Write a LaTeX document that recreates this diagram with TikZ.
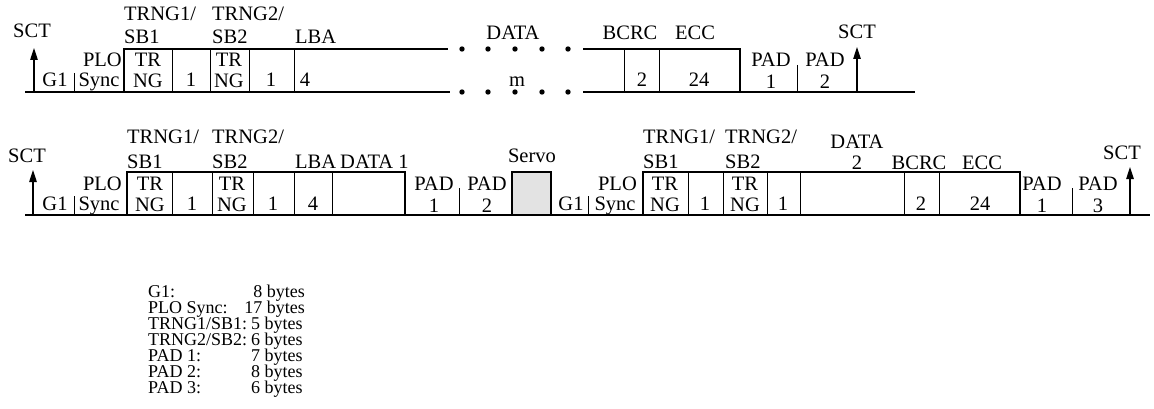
\documentclass[tikz,border=0pt]{standalone}
\usepackage{fontspec}
\setmainfont{Liberation Serif}
\usetikzlibrary{arrows.meta}
\begin{document}
\begin{tikzpicture}[x=1pt,y=-1pt,
  lab/.style={inner sep=0pt, anchor=base, font=\fontsize{20.5}{20.5}\selectfont},
  labl/.style={lab, anchor=base west},
  labr/.style={lab, anchor=base east},
  leg/.style={inner sep=0pt, anchor=base west, font=\fontsize{18}{18}\selectfont},
  legr/.style={leg, anchor=base east},
  thk/.style={line width=1.7pt},
  thn/.style={line width=1pt},
  arr/.style={line width=1.1pt, -{Triangle[length=12pt,width=7.5pt]}},
  dotf/.style={fill=black}
]
\useasboundingbox (0,0) rectangle (1154,409);

% ---------------- top row ----------------
\draw[thk] (25,92) -- (450,92);
\draw[thk] (583,92) -- (915,92);
\draw[thk] (124,92) -- (124,49) -- (448,49);
\draw[thk] (583,49) -- (740,49) -- (740,92);
\foreach \x in {172,210,249,294,624,659} \draw[thn] (\x,49) -- (\x,92);
\draw[thn] (74,73) -- (74,92);
\draw[thn] (797,65) -- (797,92);
\foreach \x in {462,488,515,542,568} {\fill[dotf] (\x,49) circle (2.7); \fill[dotf] (\x,92) circle (2.7);}

\coordinate (ab1) at (34,92); \coordinate (at1) at (34,48);
\draw[arr] (ab1) -- (at1);
\coordinate (ab2) at (857,92); \coordinate (at2) at (857,47);
\draw[arr] (ab2) -- (at2);

\node[lab] (tsct1) at (32,38) {SCT};
\node[lab] (tg1) at (55,87) {G1};
\node[lab] (tsync) at (99,87) {Sync};
\node[labr] (tplo) at (122,67) {PLO};
\node[labl] (ttr1) at (124,21) {TRNG1/};
\node[labl] (tsb1) at (124,44) {SB1};
\node[labl] (ttr2) at (212,21) {TRNG2/};
\node[labl] (tsb2) at (212,44) {SB2};
\node[labl] (tlba) at (295,44) {LBA};
\node[lab] (ttra) at (148,67) {TR};
\node[lab] (tnga) at (148,88) {NG};
\node[lab] (tone1) at (191,87) {1};
\node[lab] (ttrb) at (229,67) {TR};
\node[lab] (tngb) at (229,88) {NG};
\node[lab] (tone2) at (271,87) {1};
\node[lab] (tfour) at (305,87) {4};
\node[lab] (tdata) at (513,40) {DATA};
\node[lab] (tm) at (517,87) {m};
\node[lab] (tbcrc) at (630,40) {BCRC};
\node[lab] (tecc) at (695,40) {ECC};
\node[lab] (ttwo) at (642,87) {2};
\node[lab] (t24) at (699,87) {24};
\node[lab] (tpad1) at (771,67) {PAD};
\node[lab] (tpad1n) at (771,89) {1};
\node[lab] (tpad2) at (825,67) {PAD};
\node[lab] (tpad2n) at (825,89) {2};
\node[lab] (tsct2) at (857,39) {SCT};

% ---------------- bottom row ----------------
\draw[thk] (25,215) -- (1150,215);
\draw[thk] (127,215) rectangle (405,172);
\draw[thk] (643,215) rectangle (1020,172);
\draw[thk, fill=gray!22] (512,215) rectangle (551,172);
\foreach \x in {172,212,253,294,332,688,723,767,800,904,939} \draw[thn] (\x,172) -- (\x,215);
\draw[thn] (74,196) -- (74,215);
\draw[thn] (588,196) -- (588,215);
\draw[thn] (459,188) -- (459,215);
\draw[thn] (1072,188) -- (1072,215);

\coordinate (bb1) at (33,215); \coordinate (bt1) at (33,170);
\draw[arr] (bb1) -- (bt1);
\coordinate (bb2) at (1130,215); \coordinate (bt2) at (1130,167);
\draw[arr] (bb2) -- (bt2);

\node[lab] (bsct1) at (27,162) {SCT};
\node[lab] (bg1) at (55,210) {G1};
\node[lab] (bsync) at (99,210) {Sync};
\node[labr] (bplo) at (122,190) {PLO};
\node[labl] (btr1) at (127,143) {TRNG1/};
\node[labl] (bsb1) at (127,168) {SB1};
\node[labl] (btr2) at (212,143) {TRNG2/};
\node[labl] (bsb2) at (212,168) {SB2};
\node[labl] (blba) at (295,168) {LBA};
\node[labl] (bdata1) at (340,168) {DATA 1};
\node[lab] (btra) at (150,190) {TR};
\node[lab] (bnga) at (150,211) {NG};
\node[lab] (bone1) at (192,210) {1};
\node[lab] (btrb) at (232,190) {TR};
\node[lab] (bngb) at (232,211) {NG};
\node[lab] (bone2) at (273,210) {1};
\node[lab] (bfour) at (313,210) {4};
\node[lab] (bpad1) at (434,190) {PAD};
\node[lab] (bpad1n) at (434,212) {1};
\node[lab] (bpad2) at (487,190) {PAD};
\node[lab] (bpad2n) at (487,212) {2};
\node[lab] (bservo) at (532,163) {Servo};
\node[lab] (cg1) at (571,210) {G1};
\node[lab] (csync) at (615,210) {Sync};
\node[labr] (cplo) at (637,190) {PLO};
\node[labl] (ctr1) at (643,143) {TRNG1/};
\node[labl] (csb1) at (643,168) {SB1};
\node[labl] (ctr2) at (725,143) {TRNG2/};
\node[labl] (csb2) at (725,168) {SB2};
\node[lab] (cdata) at (857,149) {DATA};
\node[lab] (cdata2) at (857,169) {2};
\node[lab] (cbcrc) at (919,169) {BCRC};
\node[lab] (cecc) at (982,169) {ECC};
\node[lab] (ctra) at (665,190) {TR};
\node[lab] (cnga) at (665,211) {NG};
\node[lab] (cone1) at (705,210) {1};
\node[lab] (ctrb) at (745,190) {TR};
\node[lab] (cngb) at (745,211) {NG};
\node[lab] (cone2) at (783,210) {1};
\node[lab] (ctwo) at (921,210) {2};
\node[lab] (c24) at (980,210) {24};
\node[lab] (cpad1) at (1042,190) {PAD};
\node[lab] (cpad1n) at (1042,212) {1};
\node[lab] (cpad3) at (1098,190) {PAD};
\node[lab] (cpad3n) at (1098,212) {3};
\node[lab] (csct) at (1122,160) {SCT};

% ---------------- legend ----------------
\node[leg] (l1) at (148,297) {G1:};
\node[leg] (l2) at (148,313) {PLO Sync:};
\node[leg] (l3) at (148,329) {TRNG1/SB1:};
\node[leg] (l4) at (148,345) {TRNG2/SB2:};
\node[leg] (l5) at (148,361) {PAD 1:};
\node[leg] (l6) at (148,377) {PAD 2:};
\node[leg] (l7) at (148,393) {PAD 3:};
\node[legr] (v1) at (305,297) {8 bytes};
\node[legr] (v2) at (305,313) {17 bytes};
\node[leg] (v3) at (251,329) {5 bytes};
\node[leg] (v4) at (251,345) {6 bytes};
\node[leg] (v5) at (251,361) {7 bytes};
\node[leg] (v6) at (251,377) {8 bytes};
\node[leg] (v7) at (251,393) {6 bytes};
\end{tikzpicture}
\end{document}
